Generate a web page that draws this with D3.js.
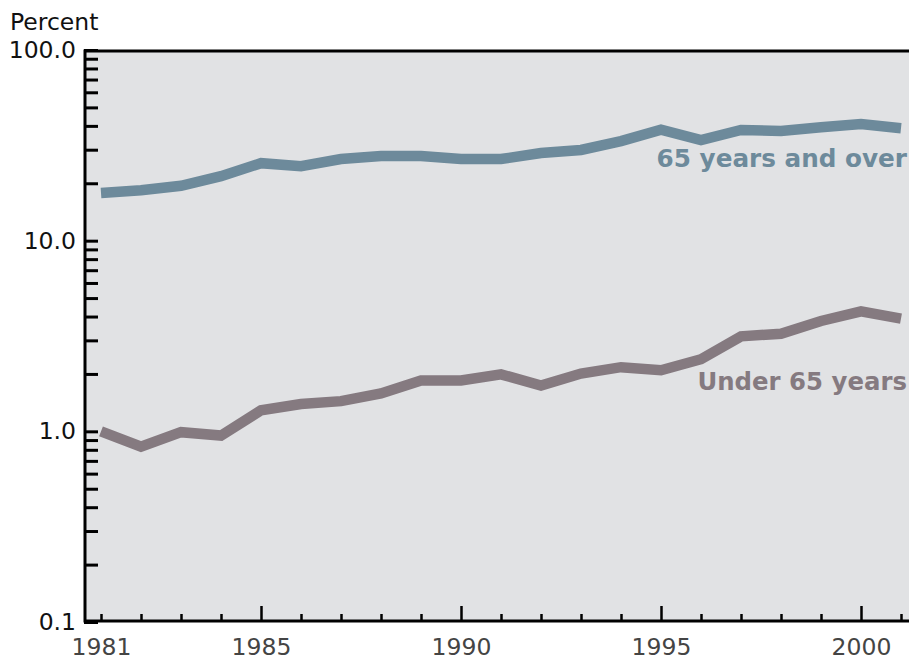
<!DOCTYPE html>
<html>
<head>
<meta charset="utf-8">
<script src="https://cdn.jsdelivr.net/npm/d3@7"></script>
<style>
  body { margin: 0; background: #fff; }
  svg text { font-family: "DejaVu Sans", Verdana, sans-serif; }
</style>
</head>
<body>
<svg id="chart" width="909" height="660"></svg>
<script>
// data
var years = [1981,1982,1983,1984,1985,1986,1987,1988,1989,1990,1991,
             1992,1993,1994,1995,1996,1997,1998,1999,2000,2001];
var over65 = [17.8,18.4,19.4,21.8,25.5,24.6,26.8,27.8,27.8,26.8,26.8,
              28.8,29.9,33.3,38.2,33.7,38.1,37.6,39.3,40.9,38.9];
var under65 = [1.0,0.83,0.99,0.95,1.29,1.39,1.44,1.58,1.85,1.85,1.99,
               1.74,2.01,2.17,2.09,2.39,3.15,3.25,3.79,4.26,3.90];

var yMajor = [0.1, 1, 10, 100];
var yMinor = [0.2,0.3,0.4,0.5,0.6,0.7,0.8,0.9,
              2,3,4,5,6,7,8,9,
              20,30,40,50,60,70,80,90];
var xLabels = [1981, 1985, 1990, 1995, 2000];
var xMajor = [1985, 1990, 1995, 2000];

var series = [
  { name: "65 years and over", values: over65, color: "#6d8a9b", lx: 907, ly: 167, fs: 24.7 },
  { name: "Under 65 years", values: under65, color: "#857a80", lx: 907, ly: 390, fs: 24.4 }
];

var svg = d3.select("#chart");
var pl = 84, pt = 50, pr = 909, pb = 622;

var x = d3.scaleLinear().domain([1980.575, 2001.2]).range([pl, pr]);
var y = d3.scaleLog().domain([0.1, 100]).range([pb, pt]);

svg.append("rect")
  .attr("x", pl).attr("y", pt)
  .attr("width", pr - pl).attr("height", pb - pt)
  .attr("fill", "#e1e2e4");

svg.append("clipPath").attr("id", "clip")
  .append("rect")
  .attr("x", pl).attr("y", pt)
  .attr("width", pr - pl).attr("height", pb - pt);

var line = d3.line()
  .x(function(d, i) { return x(years[i]); })
  .y(function(d) { return y(d); });

svg.append("g").attr("clip-path", "url(#clip)")
  .selectAll("path")
  .data(series)
  .enter()
  .append("path")
  .attr("d", function(d) { return line(d.values); })
  .attr("fill", "none")
  .attr("stroke", function(d) { return d.color; })
  .attr("stroke-width", 10.5)
  .attr("stroke-linejoin", "miter");

svg.selectAll(".slabel")
  .data(series)
  .enter()
  .append("text")
  .attr("class", "slabel")
  .attr("x", function(d) { return d.lx; })
  .attr("y", function(d) { return d.ly; })
  .attr("text-anchor", "end")
  .attr("font-weight", "bold")
  .attr("font-size", function(d) { return d.fs; })
  .attr("fill", function(d) { return d.color; })
  .text(function(d) { return d.name; });

// y axis, ticks pointing into the plot
var yAxis = d3.axisLeft(y)
  .tickValues(yMajor.concat(yMinor))
  .tickSize(-14)
  .tickFormat(function(d) { return yMajor.indexOf(d) >= 0 ? d3.format(".1f")(d) : ""; });

var gy = svg.append("g")
  .attr("transform", "translate(" + pl + ",0)")
  .call(yAxis);
gy.select(".domain").remove();
gy.selectAll(".tick line").attr("stroke", "#000").attr("stroke-width", 3);
gy.selectAll(".tick text")
  .attr("x", -8)
  .attr("font-size", 23.5)
  .attr("fill", "#111");

// x axis, ticks pointing up
var xAxis = d3.axisBottom(x)
  .tickValues(years)
  .tickSize(0)
  .tickFormat(function(d) { return xLabels.indexOf(d) >= 0 ? d : ""; });

var gx = svg.append("g")
  .attr("transform", "translate(0," + pb + ")")
  .call(xAxis);
gx.select(".domain").remove();
gx.selectAll(".tick line")
  .attr("y2", function(d) { return xMajor.indexOf(d) >= 0 ? -16 : -8; })
  .attr("stroke", "#000")
  .attr("stroke-width", 2.5);
gx.selectAll(".tick text")
  .attr("y", 16)
  .attr("font-size", 23.5)
  .attr("fill", "#444");

// frame: left, bottom, top
svg.append("path")
  .attr("d", "M" + pr + "," + (pt + 1) + "H" + (pl + 1) + "V" + (pb - 1) + "H" + pr)
  .attr("fill", "none")
  .attr("stroke", "#000")
  .attr("stroke-width", 3);

svg.append("text")
  .attr("x", 10).attr("y", 30)
  .attr("font-size", 23.5)
  .attr("fill", "#111")
  .text("Percent");
</script>
</body>
</html>
